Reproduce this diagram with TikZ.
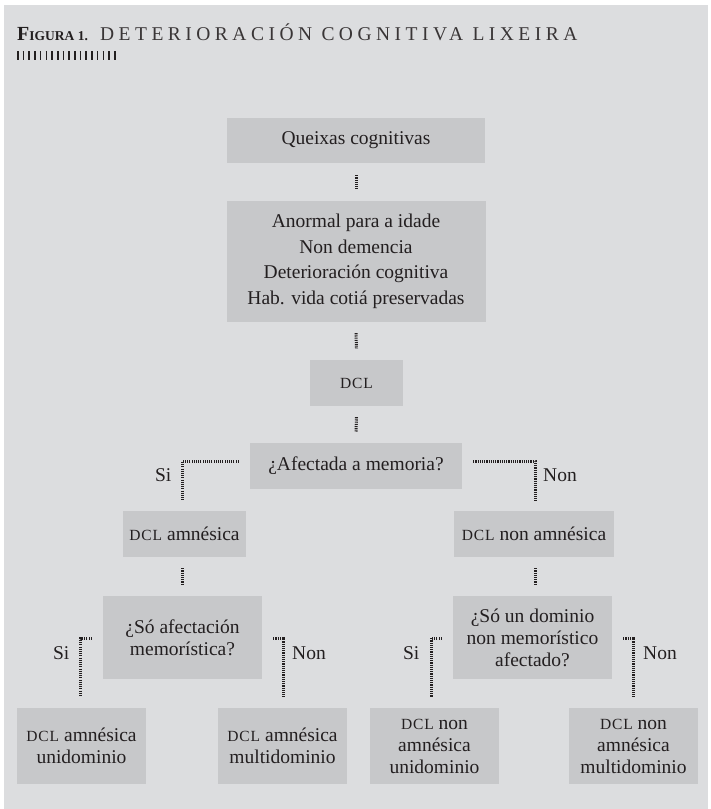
\documentclass[tikz,border=0pt]{standalone}
\usepackage{fontspec}
\setmainfont{Liberation Serif}
\usetikzlibrary{calc}
\definecolor{bg}{HTML}{DCDDDF}
\definecolor{boxc}{HTML}{C7C8CA}
\definecolor{ink}{HTML}{231F20}
\newcommand\smc[1]{{\addfontfeature{LetterSpace=6}\fontsize{15.5}{15.5}\selectfont #1}}
\begin{document}
\begin{tikzpicture}[x=1pt,y=-1pt,
  box/.style={fill=boxc, inner sep=0pt, align=center, text=ink, font=\fontsize{19.5}{22}\selectfont},
  conn/.style={draw=ink, line width=3pt, dash pattern=on 1.1pt off 1.1pt},
  lbl/.style={inner sep=0pt, text=ink, font=\fontsize{19.5}{22}\selectfont}]
\fill[bg] (4,5) rectangle (708,809);
\useasboundingbox (0,0) rectangle (710,809);
% header
\node[anchor=base west, inner sep=0pt, text=ink] (fig) at (17,40) {\bfseries\fontsize{20}{20}\selectfont F{\fontsize{13.5}{13.5}\selectfont IGURA 1.}};
\node[anchor=base west, inner sep=0pt, text=ink!90] (title) at (100,40) {\addfontfeature{LetterSpace=23}\fontsize{19.5}{19.5}\selectfont DETERIORACIÓN COGNITIVA LIXEIRA};
\draw[ink, line width=9pt, dash pattern=on 1.6pt off 4.1pt] (17,55) -- (119,55);
% boxes
\node[box, minimum width=258pt, minimum height=45pt] (q0) at (356,140.5) {Queixas cognitivas};
\node[box, minimum width=259pt, minimum height=121pt, font=\fontsize{19.5}{25.5}\selectfont] (main) at (356,261.5) {Anormal para a idade\\Non demencia\\Deterioración cognitiva\\Hab. vida cotiá preservadas};
\node[box, minimum width=93pt, minimum height=46pt] (dcl) at (356.5,383) {\smc{DCL}};
\node[box, minimum width=212pt, minimum height=46pt] (afect) at (356,466) {¿Afectada a memoria?};
\node[box, minimum width=123pt, minimum height=46pt] (amn) at (184.5,534) {\smc{DCL} amnésica};
\node[box, minimum width=160pt, minimum height=46pt] (nonamn) at (534,534) {\smc{DCL} non amnésica};
\node[box, minimum width=159pt, minimum height=83pt] (q1) at (182.5,637.5) {¿Só afectación\\memorística?};
\node[box, minimum width=159pt, minimum height=83pt] (q2) at (532.5,637.5) {¿Só un dominio\\non memorístico\\afectado?};
\node[box, minimum width=129pt, minimum height=76pt] (b1) at (81.5,746) {\smc{DCL} amnésica\\unidominio};
\node[box, minimum width=129pt, minimum height=76pt] (b2) at (282.5,746) {\smc{DCL} amnésica\\multidominio};
\node[box, minimum width=129pt, minimum height=76pt] (b3) at (434.5,746) {\smc{DCL} non\\amnésica\\unidominio};
\node[box, minimum width=129pt, minimum height=76pt] (b4) at (633.5,746) {\smc{DCL} non\\amnésica\\multidominio};
% straight connectors
\draw[conn] ($(q0.south)+(0,12)$) -- ($(main.north)+(0,-12)$);
\draw[conn] ($(main.south)+(0,11)$) -- ($(dcl.north)+(0,-11)$);
\draw[conn] ($(dcl.south)+(0,11)$) -- ($(afect.north)+(0,-11)$);
\draw[conn] ($(amn.south)+(-2,11)$) -- ($(q1.north)+(0,-12)$);
\draw[conn] ($(nonamn.south)+(1,11)$) -- ($(q2.north)+(2.5,-12)$);
% bracket connectors
\draw[conn] ($(afect.west)+(-11,-5)$) -| ($(amn.north)+(-2,-10)$);
\draw[conn] ($(afect.east)+(11,-5)$) -| ($(nonamn.north)+(1,-10)$);
\draw[conn] ($(q1.west)+(-11,0.5)$) -| ($(b1.north)+(-1,-11)$);
\draw[conn] ($(q1.east)+(11,0.5)$) -| ($(b2.north)+(0.5,-11)$);
\draw[conn] ($(q2.west)+(-11,0.5)$) -| ($(b3.north)+(-3.5,-11)$);
\draw[conn] ($(q2.east)+(11,0.5)$) -| ($(b4.north)+(-0.5,-11)$);
% labels
\node[lbl, anchor=east] (si1) at ($(amn.north)+(-13,-36)$) {Si};
\node[lbl, anchor=west] (non1) at ($(nonamn.north)+(9,-36)$) {Non};
\node[lbl, anchor=east] (si2) at ($(b1.north)+(-12,-55)$) {Si};
\node[lbl, anchor=west] (non2) at ($(b2.north)+(9.5,-55)$) {Non};
\node[lbl, anchor=east] (si3) at ($(b3.north)+(-15,-55)$) {Si};
\node[lbl, anchor=west] (non3) at ($(b4.north)+(9.5,-55)$) {Non};
\end{tikzpicture}
\end{document}
